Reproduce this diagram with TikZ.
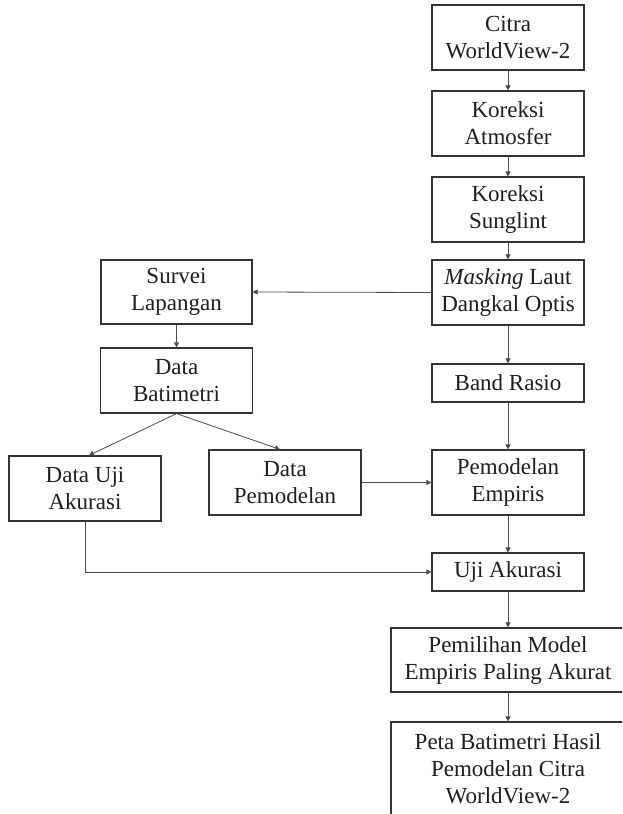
\documentclass[tikz,border=0pt]{standalone}
\usepackage{fontspec}
\setmainfont{Liberation Serif}
\usetikzlibrary{arrows.meta}
\begin{document}
\begin{tikzpicture}[x=1pt,y=-1pt,
  box/.style={draw=black!80,line width=1.2pt,align=center,inner sep=0pt,
    font=\fontsize{23}{27}\selectfont,text=black!88,anchor=center},
  std/.style={box,minimum width=152pt,minimum height=65pt},
  thin/.style={box,minimum width=152pt,minimum height=38pt},
  wide/.style={box,minimum width=234pt},
  arr/.style={draw=black!70,line width=0.8pt,-{Triangle[length=5pt,width=5pt]}}]
\useasboundingbox (0,0) rectangle (622,814);
\clip (0,0) rectangle (622,814);
\fill[white] (0,0) rectangle (622,814);
% right column
\node[std] (c1) at (508,37.5) {Citra\\WorldView-2};
\node[std] (c2) at (508,123.5) {Koreksi\\Atmosfer};
\node[std] (c3) at (508,209.5) {Koreksi\\Sunglint};
\node[std] (c4) at (508,292.5) {\textit{Masking} Laut\\Dangkal Optis};
\node[thin] (c5) at (508,383) {Band Rasio};
\node[std] (c6) at (508,482.5) {Pemodelan\\Empiris};
\node[thin] (c7) at (508,572) {Uji Akurasi};
\node[wide,minimum height=64pt] (c8) at (508,660) {Pemilihan Model\\Empiris Paling Akurat};
\node[wide,minimum height=93pt] (c9) at (508,768.5) {Peta Batimetri Hasil\\Pemodelan Citra\\WorldView-2};
% left part
\node[box,minimum width=151pt,minimum height=64pt] (s1) at (176.5,292) {Survei\\Lapangan};
\node[std] (s2) at (176.5,380.5) {Data\\Batimetri};
\node[std] (s3) at (85,488.5) {Data Uji\\Akurasi};
\node[std] (s4) at (285,482.5) {Data\\Pemodelan};
% connectors
\draw[arr] (c1) -- (c2);
\draw[arr] (c2) -- (c3);
\draw[arr] (c3) -- (c4);
\draw[arr] (c4) -- (c5);
\draw[arr] (c5) -- (c6);
\draw[arr] (c6) -- (c7);
\draw[arr] (c7) -- (c8);
\draw[arr] (c8) -- (c9);
\draw[arr] (c4.west) -- (s1.east);
\draw[arr] (s1) -- (s2);
\draw[arr] (s2.south) -- ([xshift=4pt]s3.north);
\draw[arr] (s2.south) -- ([xshift=-5pt]s4.north);
\draw[arr] (s4.east) -- (c6.west);
\draw[arr] (s3.south) |- (c7.west);
\end{tikzpicture}
\end{document}
